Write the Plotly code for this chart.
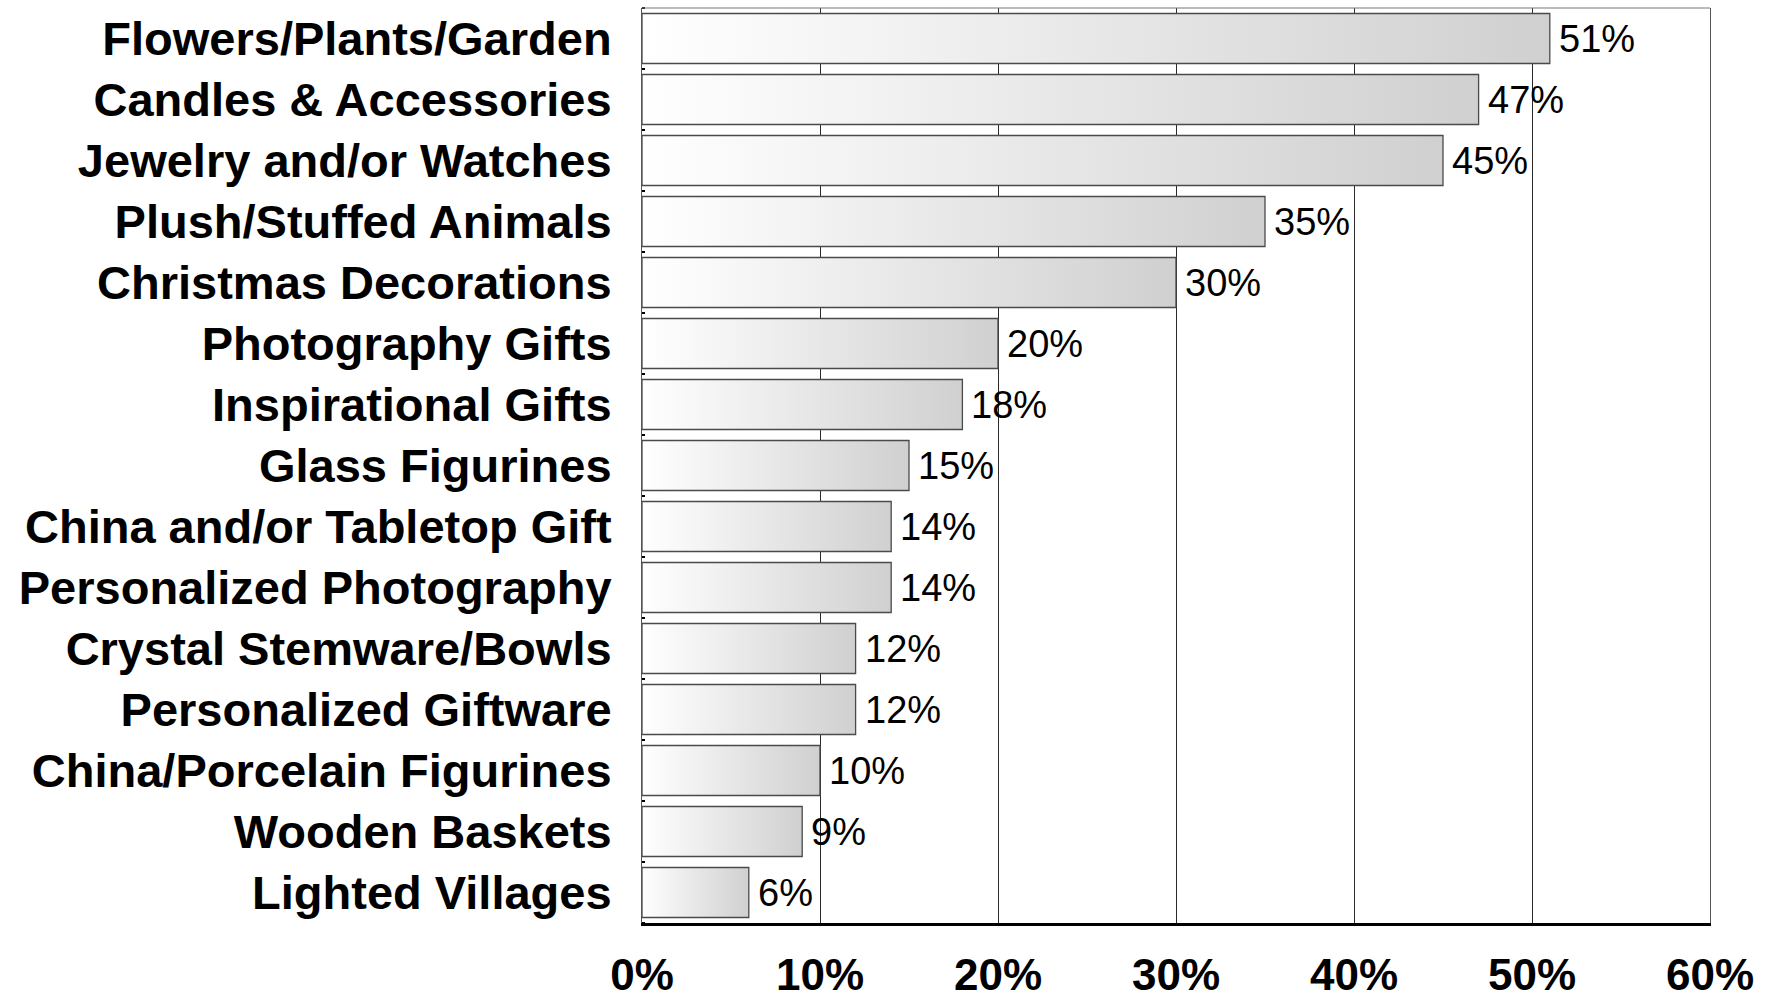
import plotly.graph_objects as go

# Share of respondents per gift category (top to bottom)
categories = [
    "Flowers/Plants/Garden",
    "Candles & Accessories",
    "Jewelry and/or Watches",
    "Plush/Stuffed Animals",
    "Christmas Decorations",
    "Photography Gifts",
    "Inspirational Gifts",
    "Glass Figurines",
    "China and/or Tabletop Gift",
    "Personalized Photography",
    "Crystal Stemware/Bowls",
    "Personalized Giftware",
    "China/Porcelain Figurines",
    "Wooden Baskets",
    "Lighted Villages",
]
values = [51, 47, 45, 35, 30, 20, 18, 15, 14, 14, 12, 12, 10, 9, 6]
x_ticks = [0, 10, 20, 30, 40, 50, 60]

FONT = "Liberation Sans, Arial, sans-serif"
HALF = 0.41  # half of the bar thickness, in category units

fig = go.Figure()

# Each bar is a filled rectangle with a left-to-right white-to-grey gradient
for i, v in enumerate(values):
    fig.add_trace(go.Scatter(
        x=[0, v, v, 0, 0],
        y=[i - HALF, i - HALF, i + HALF, i + HALF, i - HALF],
        mode="lines",
        fill="toself",
        fillgradient=dict(type="horizontal",
                          colorscale=[[0, "#ffffff"], [1, "#d0d0d0"]]),
        line=dict(color="#4a4a4a", width=1.3),
        hoverinfo="skip",
        showlegend=False,
    ))

# Value labels just past the end of each bar
for i, v in enumerate(values):
    fig.add_annotation(
        x=v, y=i, text=f"{v}%", showarrow=False,
        xanchor="left", yanchor="middle", xshift=7,
        font=dict(family=FONT, size=38, color="black"),
    )

fig.update_xaxes(
    range=[0, 60], tickvals=x_ticks, ticktext=[f"{t}%" for t in x_ticks],
    showgrid=True, gridcolor="#2a2a2a", gridwidth=1,
    showline=True, linecolor="black", linewidth=3,
    ticks="", ticklabelstandoff=11,
    tickfont=dict(family=FONT, size=44, color="black", weight="bold"),
    zeroline=False, fixedrange=True,
)
fig.update_yaxes(
    range=[14.5, -0.5], tickvals=list(range(len(categories))), ticktext=categories,
    showgrid=False, zeroline=False,
    showline=True, linecolor="#555555", linewidth=1, mirror=True,
    ticks="", ticklabelstandoff=20,
    tickfont=dict(family=FONT, size=47, color="black", weight="bold"),
    minor=dict(tickvals=[i + 0.5 for i in range(-1, len(categories))],
               ticks="inside", ticklen=3, tickwidth=2, tickcolor="black"),
    fixedrange=True,
)

# thin grey top border of the plotting frame
fig.add_shape(type="line", xref="paper", yref="paper", x0=0, x1=1, y0=1, y1=1,
              line=dict(color="#777777", width=1))

fig.update_layout(
    width=1776, height=1003,
    margin=dict(l=642, r=66, t=8, b=80, autoexpand=False),
    plot_bgcolor="white", paper_bgcolor="white",
    font=dict(family=FONT),
)

fig.write_html("out.html")
